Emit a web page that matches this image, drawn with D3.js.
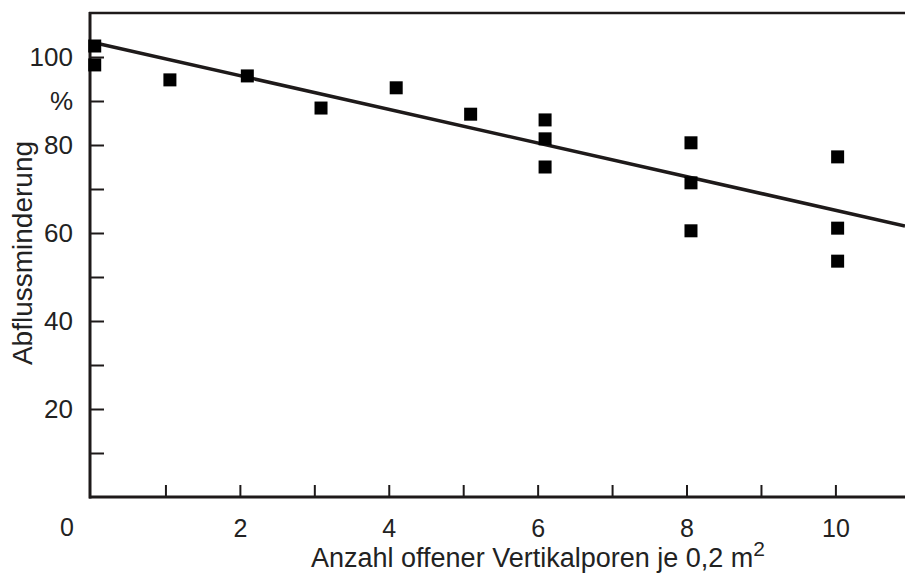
<!DOCTYPE html>
<html><head><meta charset="utf-8">
<script src="https://cdn.jsdelivr.net/npm/d3@7"></script>
<style>body{margin:0;background:#fff}svg{display:block}text{font-family:"Liberation Sans",Arial,sans-serif;fill:#222}</style>
</head><body><svg id="c" width="905" height="573"></svg>
<script>
// Data
const pointX = [0.05, 0.05, 1.06, 2.10, 3.09, 4.10, 5.10, 6.10, 6.10, 6.10, 8.06, 8.06, 8.06, 10.03, 10.03, 10.03];
const pointY = [102.5, 98.2, 94.8, 95.7, 88.4, 93.0, 87.0, 85.7, 81.4, 75.0, 80.5, 71.4, 60.5, 77.3, 61.1, 53.6];
const trendX = [0, 10.935];
const trendY = [103.4, 61.6];
const xTicks = [1, 2, 3, 4, 5, 6, 7, 8, 9, 10];
const xTickLabels = {2: "2", 4: "4", 6: "6", 8: "8", 10: "10"};
const yTicks = [10, 20, 30, 40, 50, 60, 70, 80, 90, 100];
const yTickLabels = {20: "20", 40: "40", 60: "60", 80: "80", 90: "%", 100: "100"};
const xTitle = "Anzahl offener Vertikalporen je 0,2 m";
const xTitleSup = "2";
const yTitle = "Abflussminderung";

const svg = d3.select("#c");
const x = d3.scaleLinear().domain([0, 10.935]).range([91, 905]);
const y = d3.scaleLinear().domain([0, 110]).range([497, 13]);
const ink = "#1e1a1a";

// top frame line
svg.append("line").attr("x1", 89).attr("x2", 905).attr("y1", y(110)).attr("y2", y(110))
  .attr("stroke", ink).attr("stroke-width", 2.5);

// x axis
const gx = svg.append("g").attr("transform", `translate(0,${y(0)})`)
  .call(d3.axisBottom(x).tickValues(xTicks).tickSize(-12).tickSizeOuter(0)
    .tickFormat(d => xTickLabels[d] || "").tickPadding(14));
gx.select(".domain").attr("stroke", ink).attr("stroke-width", 3).attr("d", `M${x(0)-2},0H905`);
gx.selectAll(".tick line").attr("stroke", ink).attr("stroke-width", 2);
gx.selectAll(".tick text").attr("font-size", 25).attr("dy", "1.05em").style("fill", "#222");
svg.append("text").attr("x", x(0) - 24).attr("y", y(0)).attr("dy", 39)
  .attr("text-anchor", "middle").attr("font-size", 25).text("0");

// y axis
const gy = svg.append("g").attr("transform", `translate(${x(0)-1},0)`)
  .call(d3.axisLeft(y).tickValues(yTicks).tickSize(-14).tickSizeOuter(0)
    .tickFormat(d => yTickLabels[d] || "").tickPadding(17));
gy.select(".domain").attr("stroke", ink).attr("stroke-width", 3).attr("d", `M0,${y(0)+1.5}V${y(110)-1}`);
gy.selectAll(".tick line").attr("stroke", ink).attr("stroke-width", 2);
gy.selectAll(".tick text").attr("font-size", 26).style("fill", "#222");

// trend line
svg.append("line")
  .attr("x1", x(trendX[0])).attr("y1", y(trendY[0]))
  .attr("x2", x(trendX[1])).attr("y2", y(trendY[1]))
  .attr("stroke", ink).attr("stroke-width", 3.5);

// points
const s = 13;
svg.append("g").selectAll("rect").data(pointX.map((v, i) => [v, pointY[i]])).join("rect")
  .attr("x", d => x(d[0]) - s / 2).attr("y", d => y(d[1]) - s / 2)
  .attr("width", s).attr("height", s).attr("fill", "#000");

// titles
const xt = svg.append("text").attr("x", 311).attr("y", 567).attr("font-size", 27);
xt.append("tspan").text(xTitle);
xt.append("tspan").attr("dy", -11).attr("font-size", 21).text(xTitleSup);

svg.append("text").attr("transform", `translate(32,253) rotate(-90)`)
  .attr("text-anchor", "middle").attr("font-size", 28).text(yTitle);
</script></body></html>
